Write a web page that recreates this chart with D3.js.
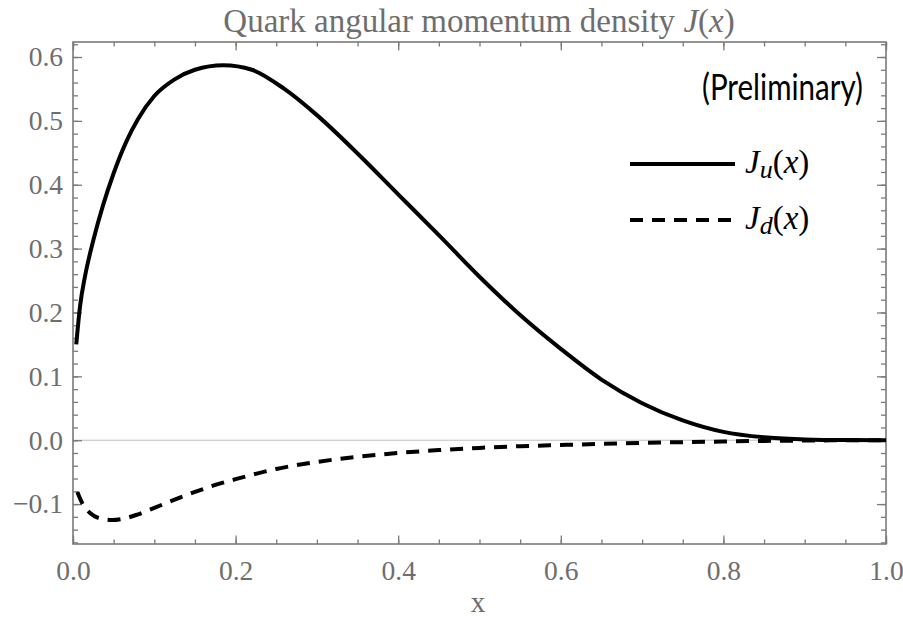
<!DOCTYPE html>
<html>
<head>
<meta charset="utf-8">
<script src="https://cdn.jsdelivr.net/npm/d3@7"></script>
<style>
  body { margin: 0; background: #fff; }
  svg { display: block; }
</style>
</head>
<body>
<svg id="chart" width="903" height="624"></svg>
<script>
// values
const juX = [0.004, 0.0086, 0.015, 0.025, 0.037, 0.05, 0.065, 0.08, 0.10, 0.125, 0.15, 0.185, 0.22, 0.26, 0.30, 0.35, 0.40, 0.45, 0.50, 0.55, 0.60, 0.65, 0.70, 0.75, 0.80, 0.85, 0.90, 0.95, 1.0]
const juY = [0.150, 0.209, 0.258, 0.313, 0.368, 0.418, 0.466, 0.503, 0.539, 0.565, 0.580, 0.587, 0.580, 0.550, 0.509, 0.449, 0.385, 0.321, 0.256, 0.196, 0.143, 0.095, 0.058, 0.031, 0.013, 0.0045, 0.0013, 0.0002, 0]

const jdX = [0.0053, 0.012, 0.021, 0.032, 0.048, 0.065, 0.08, 0.10, 0.125, 0.15, 0.175, 0.20, 0.25, 0.30, 0.35, 0.40, 0.45, 0.50, 0.55, 0.60, 0.65, 0.70, 0.75, 0.80, 0.85, 0.90, 0.95, 1.0]
const jdY = [-0.081, -0.100, -0.114, -0.122, -0.125, -0.122, -0.116, -0.106, -0.093, -0.081, -0.070, -0.061, -0.045, -0.034, -0.026, -0.020, -0.0155, -0.012, -0.0094, -0.0075, -0.0057, -0.0042, -0.003, -0.002, -0.0011, -0.0005, -0.0001, 0]

const xMajor = [0, 0.2, 0.4, 0.6, 0.8, 1.0]
const xMinor = d3.range(0, 21).map(i => i * 0.05)
const yMajor = [-0.1, 0, 0.1, 0.2, 0.3, 0.4, 0.5, 0.6]
const yMinor = d3.range(-8, 32).map(i => i * 0.02)

const svg = d3.select('#chart')
const x = d3.scaleLinear().domain([0, 1]).range([73, 886])
const y = d3.scaleLinear().domain([-0.1625, 0.6235]).range([544, 42])

const grey = '#7a7a7a'
const labelGrey = '#6e6e6e'
const serif = '"Liberation Serif", "Times New Roman", serif'

// zero line
svg.append('line')
  .attr('x1', x(0)).attr('x2', x(1))
  .attr('y1', y(0)).attr('y2', y(0))
  .attr('stroke', '#bdbdbd').attr('stroke-width', 1)

function styleAxis(g) {
  g.select('.domain').remove()
  g.selectAll('line').attr('stroke', grey).attr('stroke-width', 1.3)
  g.selectAll('text').attr('fill', labelGrey)
    .style('font-family', serif).style('font-size', '27.5px')
}

// minor ticks on all four sides
svg.append('g').attr('transform', `translate(0,${y.range()[0]})`)
  .call(d3.axisTop(x).tickValues(xMinor).tickSize(4.5).tickFormat('')).call(styleAxis)
svg.append('g').attr('transform', `translate(0,${y.range()[1]})`)
  .call(d3.axisBottom(x).tickValues(xMinor).tickSize(4.5).tickFormat('')).call(styleAxis)
svg.append('g').attr('transform', `translate(${x.range()[0]},0)`)
  .call(d3.axisRight(y).tickValues(yMinor).tickSize(5).tickFormat('')).call(styleAxis)
svg.append('g').attr('transform', `translate(${x.range()[1]},0)`)
  .call(d3.axisLeft(y).tickValues(yMinor).tickSize(5).tickFormat('')).call(styleAxis)

// major ticks + labels
svg.append('g').attr('transform', `translate(0,${y.range()[0]})`)
  .call(d3.axisTop(x).tickValues(xMajor).tickSize(8.5).tickFormat(''))
  .call(styleAxis)
svg.append('g').attr('transform', `translate(0,${y.range()[0]})`)
  .call(d3.axisBottom(x).tickValues(xMajor).tickSize(0).tickPadding(16).tickFormat(d3.format('.1f')))
  .call(styleAxis)
svg.append('g').attr('transform', `translate(0,${y.range()[1]})`)
  .call(d3.axisBottom(x).tickValues(xMajor).tickSize(8.5).tickFormat('')).call(styleAxis)
svg.append('g').attr('transform', `translate(${x.range()[0]},0)`)
  .call(d3.axisRight(y).tickValues(yMajor).tickSize(9).tickFormat('')).call(styleAxis)
svg.append('g').attr('transform', `translate(${x.range()[0]},0)`)
  .call(d3.axisLeft(y).tickValues(yMajor).tickSize(0).tickPadding(10).tickFormat(d3.format('.1f')))
  .call(styleAxis)
svg.append('g').attr('transform', `translate(${x.range()[1]},0)`)
  .call(d3.axisLeft(y).tickValues(yMajor).tickSize(9).tickFormat('')).call(styleAxis)

// frame
svg.append('rect')
  .attr('x', x.range()[0]).attr('y', y.range()[1])
  .attr('width', x.range()[1] - x.range()[0]).attr('height', y.range()[0] - y.range()[1])
  .attr('fill', 'none').attr('stroke', grey).attr('stroke-width', 1.6)

// curves
const line = d3.line().x(d => x(d[0])).y(d => y(d[1])).curve(d3.curveMonotoneX)
const ju = juX.map((v, i) => [v, juY[i]])
const jd = jdX.map((v, i) => [v, jdY[i]])

svg.append('path').datum(jd).attr('d', line)
  .attr('fill', 'none').attr('stroke', '#000').attr('stroke-width', 4)
  .attr('stroke-dasharray', '13,9')
svg.append('path').datum(ju).attr('d', line)
  .attr('fill', 'none').attr('stroke', '#000').attr('stroke-width', 4)

// title
const title = svg.append('text').attr('x', 479).attr('y', 32)
  .attr('text-anchor', 'middle').attr('fill', labelGrey)
  .style('font-family', serif).style('font-size', '33px')
title.append('tspan').text('Quark angular momentum density ')
title.append('tspan').style('font-style', 'italic').text('J')
title.append('tspan').text('(')
title.append('tspan').style('font-style', 'italic').text('x')
title.append('tspan').text(')')

// x label
svg.append('text').attr('x', 478).attr('y', 612)
  .attr('text-anchor', 'middle').attr('fill', labelGrey)
  .style('font-family', serif).style('font-size', '29px').text('x')

// preliminary note, squeezed horizontally to the reference width
const prelimG = svg.append('g')
const prelim = prelimG.append('text').attr('x', 0).attr('y', 0)
  .attr('fill', '#000')
  .style('font-family', 'Lato, "Open Sans", sans-serif')
  .style('font-size', '37px')
  .text('(Preliminary)')
const pw = prelim.node().getComputedTextLength()
prelimG.attr('transform', `translate(702,100) scale(${161 / pw},1)`)

// legend
const legend = [
  {sub: 'u', dash: null, y: 164},
  {sub: 'd', dash: '13,9', y: 220}
]
legend.forEach(d => {
  svg.append('line').attr('x1', 630).attr('x2', 735).attr('y1', d.y).attr('y2', d.y)
    .attr('stroke', '#000').attr('stroke-width', 4)
    .attr('stroke-dasharray', d.dash)
  const t = svg.append('text').attr('x', 745).attr('y', d.y + 9)
    .attr('fill', '#000')
    .style('font-family', serif).style('font-size', '33px')
  t.append('tspan').style('font-style', 'italic').text('J')
  t.append('tspan').style('font-style', 'italic').style('font-size', '26px').attr('dy', 5).text(d.sub)
  t.append('tspan').attr('dy', -5).text('(')
  t.append('tspan').style('font-style', 'italic').text('x')
  t.append('tspan').text(')')
})
</script>
</body>
</html>
